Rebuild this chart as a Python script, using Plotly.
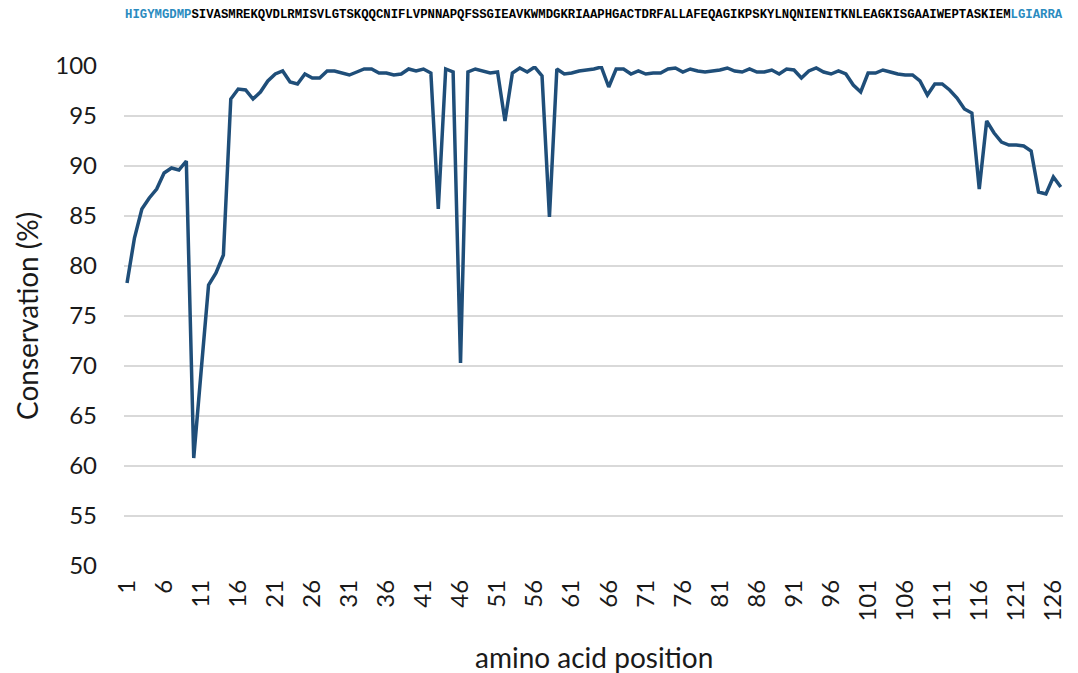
import plotly.graph_objects as go

# Protein sequence shown above the plot (flanking residues highlighted)
seq_nterm = "HIGYMGDMP"
seq_core = ("SIVASMREKQVDLRMISVLGTSKQQCNIFLVPNNAPQFSSGIEAVKWMDGKRIAAPHGAC"
            "TDRFALLAFEQAGIKPSKYLNQNIENITKNLEAGKISGAAIWEPTASKIEM")
seq_cterm = "LGIARRA"

# Amino acid positions and per-residue conservation (%)
positions = list(range(1, 128))
conservation = [
    78.3, 82.8, 85.7, 86.8, 87.7, 89.3, 89.8, 89.6, 90.5, 60.8,
    69.5, 78.1, 79.3, 81.1, 96.7, 97.7, 97.6, 96.7, 97.4, 98.5,
    99.2, 99.5, 98.4, 98.2, 99.2, 98.8, 98.8, 99.5, 99.5, 99.3,
    99.1, 99.4, 99.7, 99.7, 99.3, 99.3, 99.1, 99.2, 99.7, 99.5,
    99.7, 99.3, 85.7, 99.7, 99.4, 70.3, 99.4, 99.7, 99.5, 99.3,
    99.4, 94.5, 99.3, 99.8, 99.4, 99.9, 99.0, 84.9, 99.7, 99.2,
    99.3, 99.5, 99.6, 99.7, 99.9, 97.9, 99.7, 99.7, 99.2, 99.5,
    99.2, 99.3, 99.3, 99.7, 99.8, 99.4, 99.7, 99.5, 99.4, 99.5,
    99.6, 99.8, 99.5, 99.4, 99.7, 99.4, 99.4, 99.6, 99.2, 99.7,
    99.6, 98.8, 99.5, 99.8, 99.4, 99.2, 99.5, 99.2, 98.1, 97.4,
    99.3, 99.3, 99.6, 99.4, 99.2, 99.1, 99.1, 98.5, 97.1, 98.2,
    98.2, 97.6, 96.8, 95.7, 95.3, 87.7, 94.5, 93.3, 92.4, 92.1,
    92.1, 92.0, 91.5, 87.4, 87.2, 88.9, 87.9,
]

x_ticks = list(range(1, 128, 5))
y_ticks = list(range(50, 101, 5))

x_title = "amino acid position"
y_title = "Conservation (%)"

LINE_COLOR = "#1F4E79"
FLANK_COLOR = "#2A8BBF"
TEXT_COLOR = "#1a1a1a"
AXIS_FONT = "Lato"

fig = go.Figure()
fig.add_trace(go.Scatter(
    x=positions,
    y=conservation,
    mode="lines",
    line=dict(color=LINE_COLOR, width=3.5),
    hoverinfo="x+y",
    showlegend=False,
))

seq_html = (f"<b><span style='color:{FLANK_COLOR}'>{seq_nterm}</span>"
            f"{seq_core}"
            f"<span style='color:{FLANK_COLOR}'>{seq_cterm}</span></b>")

fig.add_annotation(
    text=seq_html,
    xref="paper", yref="paper",
    x=0.5, y=1.0, yshift=51,
    xanchor="center", yanchor="middle",
    showarrow=False,
    font=dict(family="Liberation Mono", size=12.3, color="#000000"),
)

# Axis titles placed as annotations so the plot area keeps fixed margins
fig.add_annotation(
    text=x_title,
    xref="paper", yref="paper",
    x=0.5, y=0, yshift=-91,
    xanchor="center", yanchor="middle",
    showarrow=False,
    font=dict(family=AXIS_FONT, size=28, color=TEXT_COLOR),
)
fig.add_annotation(
    text=y_title,
    xref="paper", yref="paper",
    x=0, y=0.5, xshift=-97,
    xanchor="center", yanchor="middle",
    textangle=-90,
    showarrow=False,
    font=dict(family=AXIS_FONT, size=28, color=TEXT_COLOR),
)

fig.update_layout(
    width=1078, height=673,
    margin=dict(l=124, r=15, t=66, b=107),
    paper_bgcolor="white",
    plot_bgcolor="white",
    font=dict(family=AXIS_FONT, color=TEXT_COLOR),
    xaxis=dict(
        range=[0.59, 127.3],
        tickmode="array",
        tickvals=x_ticks,
        ticktext=[str(v) for v in x_ticks],
        tickangle=-90,
        tickfont=dict(size=24, family=AXIS_FONT, color=TEXT_COLOR),
        showgrid=False,
        zeroline=False,
        showline=False,
        ticks="",
        ticklabelstandoff=8,
        automargin=False,
    ),
    yaxis=dict(
        range=[50, 100],
        tickmode="array",
        tickvals=y_ticks,
        tickfont=dict(size=24, family=AXIS_FONT, color=TEXT_COLOR),
        showgrid=True,
        gridcolor="#D9D9D9",
        gridwidth=1.5,
        zeroline=False,
        showline=False,
        ticks="",
        ticklabelstandoff=26,
        automargin=False,
    ),
)

fig.write_html("out.html")
